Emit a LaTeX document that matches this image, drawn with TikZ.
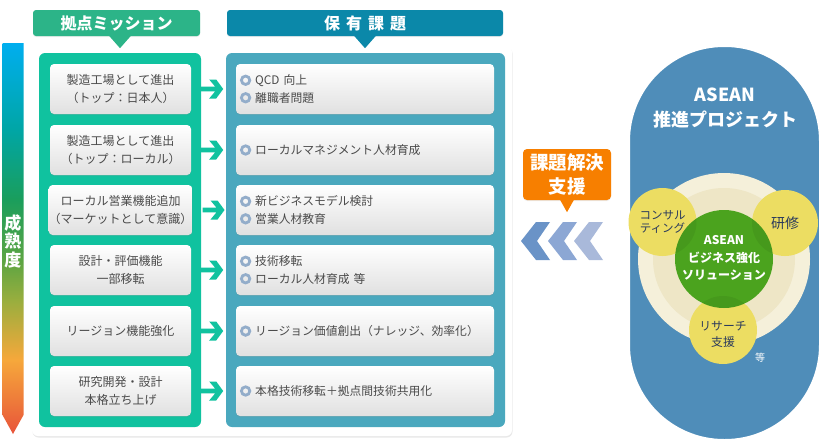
\documentclass[tikz,border=0pt]{standalone}
\usepackage{fontspec}
\setmainfont{Noto Sans CJK JP}
\usetikzlibrary{calc,shadows}
\definecolor{gcol}{HTML}{10C29F}
\definecolor{ghead}{HTML}{2CB488}
\definecolor{tcol}{HTML}{4AA8BE}
\definecolor{thead}{HTML}{0B88A9}
\definecolor{txt}{HTML}{4A4A4A}
\definecolor{bulc}{HTML}{93ADCA}
\definecolor{caps}{HTML}{4F8DB9}
\definecolor{pale1}{HTML}{F5F0DA}
\definecolor{pale2}{HTML}{EEE6C6}
\definecolor{gcirc}{HTML}{4BA31E}
\definecolor{ycirc}{HTML}{ECDD62}
\definecolor{navy}{HTML}{2A3A5C}
\definecolor{orng}{HTML}{F77F00}
\definecolor{chA}{HTML}{6A93C7}
\definecolor{chB}{HTML}{8CA7D4}
\definecolor{chC}{HTML}{A9B9DA}
\definecolor{cR}{HTML}{E8533A}
\definecolor{cR2}{HTML}{EE7B3A}
\definecolor{cO}{HTML}{F6A83B}
\definecolor{cOl}{HTML}{9AAE3E}
\definecolor{cG2}{HTML}{5EA542}
\definecolor{cG}{HTML}{1A9E5C}
\definecolor{cT}{HTML}{00A6A6}
\definecolor{cC}{HTML}{00AEEF}
\pgfdeclareverticalshading{matur}{100bp}{color(0bp)=(cR); color(25bp)=(cR); color(29.3bp)=(cR2); color(34.5bp)=(cO); color(42bp)=(cOl); color(47bp)=(cG2); color(55bp)=(cG); color(64bp)=(cT); color(75bp)=(cC); color(100bp)=(cC)}
\newcommand{\bul}{\tikz[baseline=-4.3pt]{\draw[line width=2.8pt,draw=bulc] (0pt,0pt) circle (4.2pt);}\hspace{4pt}}
\tikzset{
  lbox/.style={rounded corners=4pt, top color=white, bottom color=black!12, minimum width=141pt, minimum height=50pt, align=center, text=txt, font=\fontsize{12}{17.5}\selectfont, inner sep=0pt, drop shadow={opacity=0.2, shadow xshift=0pt, shadow yshift=-1pt}},
  rbox/.style={rounded corners=4pt, top color=white, bottom color=black!12, minimum height=50pt, text width=250pt, inner xsep=4pt, inner ysep=0pt, align=left, text=txt, font=\fontsize{11.8}{17.5}\selectfont, drop shadow={opacity=0.2, shadow xshift=0pt, shadow yshift=-1pt}},
  hdr/.style={rounded corners=3pt, minimum height=26pt, text=white, font=\fontsize{16}{18}\selectfont\bfseries, inner sep=0pt},
  garr/.style={fill=gcol},
  ycircle/.style={circle, fill=ycirc, minimum size=68pt, inner sep=0pt, align=center, text=navy, font=\fontsize{11.5}{13.5}\selectfont},
}
\begin{document}
\begin{tikzpicture}[x=1pt,y=-1pt]
\useasboundingbox (0,0) rectangle (830,447);
% maturity arrow
\shade[shading=matur] (2.5,43) -- (23.5,43) -- (23.5,415) -- (13,434) -- (2.5,415) -- cycle;
\node[text=white, font=\fontsize{17}{18.5}\selectfont\bfseries, align=center, inner sep=0pt] (MAT) at (13,241) {成\\熟\\度};
% white panel
\node[fill=white, rounded corners=6pt, minimum width=480pt, minimum height=390pt, drop shadow={opacity=0.18, shadow xshift=0.5pt, shadow yshift=-1.5pt}] (PAN) at (272,241) {};
% columns
\node[fill=gcol, rounded corners=6pt, minimum width=162pt, minimum height=374pt] (GC) at (120,240) {};
\node[fill=tcol, rounded corners=6pt, minimum width=279pt, minimum height=374pt] (TC) at (365.5,240) {};
% headers
\node[hdr, fill=ghead, minimum width=167pt, drop shadow={opacity=0.15, shadow xshift=0pt, shadow yshift=-1pt}] (H1) at (116.5,23) {拠点ミッション};
\fill[ghead] ($(H1.south -| GC.center)+(-11,-0.5)$) -- ($(H1.south -| GC.center)+(11,-0.5)$) -- ($(H1.south -| GC.center)+(0,12)$) -- cycle;
\node[hdr, fill=thead, minimum width=276pt, drop shadow={opacity=0.15, shadow xshift=0pt, shadow yshift=-1pt}] (H2) at (365,23) {保\hspace{6pt}有\hspace{6pt}課\hspace{6pt}題};
\fill[thead] ($(H2.south)+(-11,-0.5)$) -- ($(H2.south)+(11,-0.5)$) -- ($(H2.south)+(0,12)$) -- cycle;
% left boxes
\node[lbox] (L1) at (120.5,89) {製造工場として進出\\（トップ：日本人）};
\node[lbox] (L2) at (120.5,150) {製造工場として進出\\（トップ：ローカル）};
\node[lbox] (L3) at (120.5,210) {ローカル営業機能追加\\（マーケットとして意識）};
\node[lbox] (L4) at (120.5,270) {設計・評価機能\\一部移転};
\node[lbox] (L5) at (120.5,331) {リージョン機能強化};
\node[lbox] (L6) at (120.5,391) {研究開発・設計\\本格立ち上げ};
% right boxes
\node[rbox] (R1) at (365,89) {\bul QCD 向上\\\bul 離職者問題};
\node[rbox] (R2) at (365,150) {\bul ローカルマネジメント人材育成};
\node[rbox] (R3) at (365,210) {\bul 新ビジネスモデル検討\\\bul 営業人材教育};
\node[rbox] (R4) at (365,270) {\bul 技術移転\\\bul ローカル人材育成 等};
\node[rbox] (R5) at (365,331) {\bul リージョン価値創出（ナレッジ、効率化）};
\node[rbox] (R6) at (365,391) {\bul 本格技術移転＋拠点間技術共用化};
% arrows
\foreach \i in {1,...,6}{
  \fill[garr] ($(L\i.east)+(10,-2.3)$) -- ($(L\i.east)+(24,-2.3)$) -- ($(L\i.east)+(18,-9.5)$) -- ($(L\i.east)+(25,-9.5)$) -- ($(L\i.east)+(32,0)$) -- ($(L\i.east)+(25,9.5)$) -- ($(L\i.east)+(18,9.5)$) -- ($(L\i.east)+(24,2.3)$) -- ($(L\i.east)+(10,2.3)$) -- cycle;
}
% callout
\node[fill=orng, rounded corners=4pt, minimum width=88pt, minimum height=51pt, text=white, font=\fontsize{18.5}{24}\selectfont\bfseries, align=center, inner sep=0pt, drop shadow={opacity=0.15, shadow xshift=0pt, shadow yshift=-1pt}] (CB) at (567,174.5) {課題解決\\支援};
\fill[orng] ($(CB.south)+(-7,-0.5)$) -- ($(CB.south)+(7,-0.5)$) -- ($(CB.south)+(0,12)$) -- cycle;
% chevrons
\foreach \x/\c in {521/chA,548/chB,574/chC}{
  \fill[\c] (\x,241) -- (\x+15,222) -- (\x+29,222) -- (\x+16,241) -- (\x+29,260) -- (\x+15,260) -- cycle;
}
% capsule
\node[draw=white, line width=4pt, fill=caps, rounded corners=96pt, minimum width=193pt, minimum height=396pt, drop shadow={opacity=0.2, shadow xshift=0.5pt, shadow yshift=-1pt}] (CAP) at (724.5,243) {};
\node[text=white, font=\fontsize{18}{25}\selectfont\bfseries, align=center, inner sep=0pt] (TIT) at (725,108) {ASEAN\\推進プロジェクト};
\node[circle, fill=pale1, minimum size=172pt, inner sep=0pt] (P1) at (724,259) {};
\node[circle, fill=pale2, minimum size=142pt, inner sep=0pt] (P2) at (724,259) {};
\node[ycircle] (Y1) at (662.5,222) {コンサル\\ティング};
\node[ycircle, minimum size=66pt, font=\fontsize{14}{15}\selectfont] (Y2) at (785,223) {研修};
\node[ycircle] (Y3) at (723,330) {};
\node[circle, fill=gcirc, minimum size=98pt, inner sep=0pt] (GR) at (724,259) {};
\begin{scope}
  \clip (724,259) circle (49);
  \fill[black, opacity=0.06] (662.5,222) circle (34);
  \fill[black, opacity=0.06] (785,223) circle (33);
  \fill[black, opacity=0.06] (723,330) circle (34);
\end{scope}
\node[text=white, font=\fontsize{12}{17.5}\selectfont\bfseries, align=center, inner sep=0pt] (GT) at (724,258) {ASEAN\\ビジネス強化\\ソリューション};
\node[text=navy, font=\fontsize{11.8}{16}\selectfont, align=center, inner sep=0pt] (Y3T) at (723,334) {リサーチ\\支援};
\node[text=white, font=\fontsize{10}{12}\selectfont, inner sep=0pt] (ETC) at (760,358) {等};
\end{tikzpicture}
\end{document}
